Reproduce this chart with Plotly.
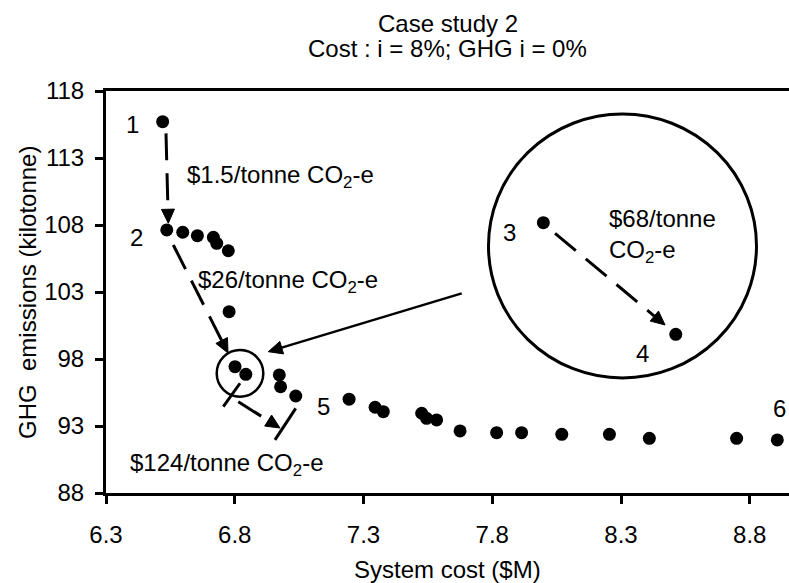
import math
import plotly.graph_objects as go

# ---- data -------------------------------------------------------------
cost = [6.520, 6.536, 6.598, 6.655, 6.717, 6.730, 6.775, 6.778, 6.801, 6.843,
        6.973, 6.978, 7.037, 7.244, 7.345, 7.377, 7.526, 7.545, 7.584, 7.675,
        7.817, 7.914, 8.070, 8.255, 8.410, 8.749, 8.907]
ghg = [115.71, 107.63, 107.46, 107.20, 107.08, 106.63, 106.08, 101.53, 97.43, 96.86,
       96.81, 95.93, 95.24, 95.00, 94.40, 94.07, 93.95, 93.57, 93.45, 92.63,
       92.50, 92.50, 92.38, 92.38, 92.08, 92.08, 91.96]

x_ticks = [6.3, 6.8, 7.3, 7.8, 8.3, 8.8]
y_ticks = [88, 93, 98, 103, 108, 113, 118]

# numbered solutions on the main plot: label -> index into the series
main_labels = {"1": 0, "2": 1, "5": 13, "6": 26}
# solutions 3 and 4 shown magnified in the inset
inset_labels = {"3": 8, "4": 9}

FONT = "Liberation Sans, Arial, sans-serif"
FS = 24

W, H = 789, 583
M = dict(l=106, r=0, t=91, b=90)
PW, PH = W - M["l"] - M["r"], H - M["t"] - M["b"]

X_RANGE = [6.3, 8.9524]
Y_RANGE = [88, 118]
X2_DOM, Y2_DOM = [0.5600, 0.9524], [0.2861, 0.9428]
X2_RANGE, Y2_RANGE = [6.7836, 6.8686], [96.637, 97.985]

# pixels per data unit for each axis pair (used to shape arrowheads)
SCALE = {
    ("x", "y"): (PW / (X_RANGE[1] - X_RANGE[0]), PH / (Y_RANGE[1] - Y_RANGE[0])),
    ("x2", "y2"): (PW * (X2_DOM[1] - X2_DOM[0]) / (X2_RANGE[1] - X2_RANGE[0]),
                   PH * (Y2_DOM[1] - Y2_DOM[0]) / (Y2_RANGE[1] - Y2_RANGE[0])),
}

fig = go.Figure()

fig.add_trace(go.Scatter(
    x=cost, y=ghg, mode="markers",
    marker=dict(color="black", size=13),
    xaxis="x", yaxis="y", hoverinfo="skip", showlegend=False,
))

inset_idx = list(inset_labels.values())
fig.add_trace(go.Scatter(
    x=[cost[i] for i in inset_idx], y=[ghg[i] for i in inset_idx], mode="markers",
    marker=dict(color="black", size=13),
    xaxis="x2", yaxis="y2", hoverinfo="skip", showlegend=False,
))

annotations = []
shapes = []

# point labels (offsets in pixels)
label_shift = {"1": (-30, -3), "2": (-30, -8), "5": (-26, -7), "6": (2, 31)}
for lab, i in main_labels.items():
    dx, dy = label_shift[lab]
    annotations.append(dict(x=cost[i], y=ghg[i], xref="x", yref="y", text=lab,
                            showarrow=False, xshift=dx, yshift=dy,
                            font=dict(size=FS, color="black", family=FONT)))
inset_shift = {"3": (-34, -10), "4": (-33, -19)}
for lab, i in inset_labels.items():
    dx, dy = inset_shift[lab]
    annotations.append(dict(x=cost[i], y=ghg[i], xref="x2", yref="y2", text=lab,
                            showarrow=False, xshift=dx, yshift=dy,
                            font=dict(size=FS, color="black", family=FONT)))

DASH = "27px,13px"
HEAD_LEN, HEAD_W = 14, 13


def arrow(x0, y0, xt, yt, xref="x", yref="y", dash=DASH, width=3):
    """Shaft from (x0, y0) with a filled triangular head whose tip is (xt, yt)."""
    sx, sy = SCALE[(xref, yref)]
    dxp, dyp = (xt - x0) * sx, (yt - y0) * sy
    n = math.hypot(dxp, dyp)
    ux, uy = dxp / n, dyp / n
    bx, by = xt - HEAD_LEN * ux / sx, yt - HEAD_LEN * uy / sy
    px, py = -uy * HEAD_W / 2, ux * HEAD_W / 2
    c1 = (bx + px / sx, by + py / sy)
    c2 = (bx - px / sx, by - py / sy)
    shapes.append(dict(type="line", xref=xref, yref=yref, x0=x0, y0=y0, x1=bx, y1=by,
                       line=dict(color="black", width=width, dash=dash)))
    shapes.append(dict(type="path", xref=xref, yref=yref,
                       path=f"M{xt},{yt} L{c1[0]},{c1[1]} L{c2[0]},{c2[1]} Z",
                       fillcolor="black", line=dict(color="black", width=1)))


# solution 1 -> 2
arrow(6.533, 114.84, 6.542, 108.13)
# solution 2 -> 3
arrow(6.5614, 106.507, 6.7738, 98.448)
# solution 3 -> 5 (with end bars)
arrow(6.8138, 94.81, 6.9757, 92.85)
shapes.append(dict(type="line", xref="x", yref="y", x0=6.7555, y0=94.44, x1=6.8204, y1=96.19,
                   line=dict(color="black", width=3)))
shapes.append(dict(type="line", xref="x", yref="y", x0=6.9563, y0=91.96, x1=7.0367, y1=94.32,
                   line=dict(color="black", width=3)))

# magnifier circle around solutions 3 and 4
shapes.append(dict(type="circle", xref="x", yref="y", x0=6.7299, x1=6.9109, y0=95.19, y1=98.67,
                   line=dict(color="black", width=2.5)))
# pointer from the inset to the magnifier
arrow(7.6814, 102.90, 6.9303, 98.545, dash="solid", width=2.5)

# inset frame and arrow
shapes.append(dict(type="circle", xref="x2 domain", yref="y2 domain", x0=0, x1=1, y0=0, y1=1,
                   line=dict(color="black", width=3)))
arrow(6.80471, 97.3759, 6.83961, 96.9075, xref="x2", yref="y2")

# cost labels
txt = dict(showarrow=False, xanchor="left", yanchor="middle",
           font=dict(size=FS, color="black", family=FONT))
annotations.append(dict(x=6.607, y=111.60, xref="x", yref="y",
                        text="$1.5/tonne CO<sub>2</sub>-e", **txt))
annotations.append(dict(x=6.650, y=103.75, xref="x", yref="y",
                        text="$26/tonne CO<sub>2</sub>-e", **txt))
annotations.append(dict(x=6.385, y=90.09, xref="x", yref="y",
                        text="$124/tonne CO<sub>2</sub>-e", **txt))
annotations.append(dict(x=6.8211, y=97.362, xref="x2", yref="y2", align="left",
                        text="$68/tonne<br>CO<sub>2</sub>-e", **txt))

# titles
annotations.append(dict(x=0.5, y=1.1667, xref="paper", yref="paper", text="Case study 2",
                        showarrow=False, yanchor="middle",
                        font=dict(size=FS, color="black", family=FONT)))
annotations.append(dict(x=0.5, y=1.1045, xref="paper", yref="paper",
                        text="Cost : i = 8%; GHG i = 0%", showarrow=False, yanchor="middle",
                        font=dict(size=FS, color="black", family=FONT)))
annotations.append(dict(x=0.5, y=-0.1915, xref="paper", yref="paper", text="System cost ($M)",
                        showarrow=False, yanchor="middle",
                        font=dict(size=FS, color="black", family=FONT)))
annotations.append(dict(x=-0.1157, y=0.5, xref="paper", yref="paper",
                        text="GHG\u00a0 emissions (kilotonne)", textangle=-90,
                        showarrow=False, xanchor="center", yanchor="middle",
                        font=dict(size=FS, color="black", family=FONT)))

axis_common = dict(showgrid=False, zeroline=False, showline=True, linecolor="black",
                   linewidth=3, ticks="outside", ticklen=8, tickwidth=2.5,
                   tickcolor="black", tickfont=dict(size=FS, color="black", family=FONT))

fig.update_layout(
    width=W, height=H,
    margin=M,
    paper_bgcolor="white", plot_bgcolor="white",
    showlegend=False,
    xaxis=dict(range=X_RANGE, tickvals=x_ticks, ticktext=[f"{v:.1f}" for v in x_ticks],
               mirror=True, ticklabelstandoff=10, **axis_common),
    yaxis=dict(range=Y_RANGE, tickvals=y_ticks, ticktext=[str(v) for v in y_ticks],
               ticklabelstandoff=6, **axis_common),
    xaxis2=dict(domain=X2_DOM, range=X2_RANGE, anchor="y2", visible=False),
    yaxis2=dict(domain=Y2_DOM, range=Y2_RANGE, anchor="x2", visible=False),
    annotations=annotations,
    shapes=shapes,
)

fig.write_html("out.html")
